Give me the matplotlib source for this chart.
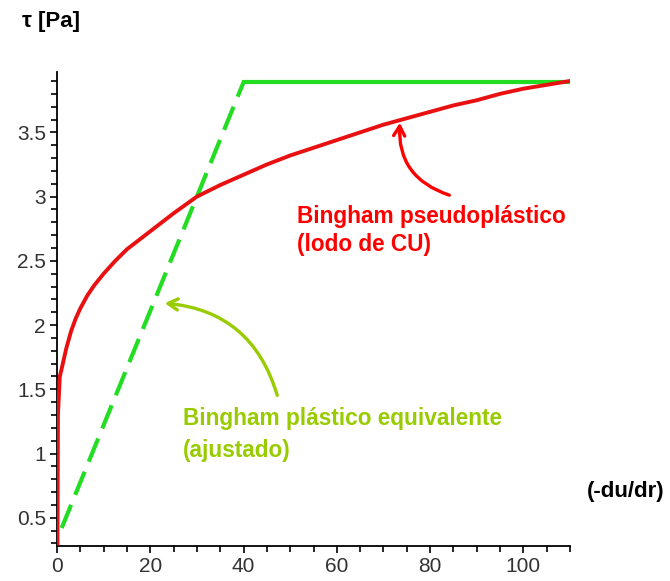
import matplotlib
matplotlib.use('Agg')
import matplotlib.pyplot as plt
from matplotlib.ticker import MultipleLocator

plt.rcParams['font.family'] = ['Liberation Sans', 'DejaVu Sans']

# curva pseudoplastica
red_x = [0.1, 0.2, 0.4, 0.6, 1, 2, 3, 4, 5, 6.5, 8, 10, 12.5, 15, 17.5, 20, 25, 30,
         35, 40, 45, 50, 55, 60, 65, 70, 75, 80, 85, 90, 95, 100, 105, 110]
red_y = [0.30, 1.30, 1.45, 1.60, 1.66, 1.82, 1.95, 2.05, 2.13, 2.23, 2.31, 2.40, 2.50,
         2.59, 2.66, 2.73, 2.87, 3.00, 3.09, 3.17, 3.25, 3.32, 3.38, 3.44, 3.50, 3.56,
         3.61, 3.66, 3.71, 3.75, 3.80, 3.84, 3.87, 3.90]

# plastico equivalente
green_dash_x = [1, 40]
green_dash_y = [0.42, 3.89]
green_flat_x = [40, 110]
green_flat_y = [3.89, 3.89]

x_major = [0, 20, 40, 60, 80, 100]
y_major = [0.5, 1, 1.5, 2, 2.5, 3, 3.5]
y_labels = ['0.5', '1', '1.5', '2', '2.5', '3', '3.5']

fig = plt.figure(figsize=(6.7, 5.81), dpi=100)
ax = fig.add_axes([57/670, 1 - 546/581, (570 - 57)/670, (546 - 72)/581])

ax.plot(green_dash_x, green_dash_y, color='#22dd22', lw=3.0, linestyle=(0, (6, 2.6)),
        solid_capstyle='butt', zorder=2)
ax.plot(green_flat_x, green_flat_y, color='#22dd22', lw=3.0, zorder=2)
ax.plot(red_x, red_y, color='#e81010', lw=2.8, zorder=3)

ax.set_xlim(0, 110)
ax.set_ylim(0.28, 3.97)

for s in ['top', 'right']:
    ax.spines[s].set_visible(False)
for s in ['left', 'bottom']:
    ax.spines[s].set_linewidth(1.3)

ax.set_xticks(x_major)
ax.set_yticks(y_major)
ax.set_yticklabels(y_labels)
ax.xaxis.set_minor_locator(MultipleLocator(5))
ax.yaxis.set_minor_locator(MultipleLocator(0.1))
ax.tick_params(which='major', direction='out', length=5, width=1.2, labelsize=15,
               labelcolor='#333333', pad=3)
ax.tick_params(which='minor', direction='out', length=4.5, width=1.2)

fig.text(22/670, 1 - 22/581, 'τ [Pa]', fontsize=16, fontweight='bold', va='center')
fig.text(587/670, 1 - 492/581, '(-du/dr)', fontsize=16, fontweight='bold', va='center')

fig.text(297/670, 1 - 216/581, 'Bingham pseudoplástico', fontsize=16.3, fontweight='bold',
         color='#ff0000', va='center')
fig.text(297/670, 1 - 244/581, '(lodo de CU)', fontsize=16.3, fontweight='bold',
         color='#ff0000', va='center')
fig.text(183/670, 1 - 418/581, 'Bingham plástico equivalente', fontsize=16.3,
         fontweight='bold', color='#99cc00', va='center')
fig.text(183/670, 1 - 451/581, '(ajustado)', fontsize=16.3, fontweight='bold',
         color='#99cc00', va='center')

# flechas
ax.annotate('', xy=(400/670, 1 - 120/581), xycoords='figure fraction',
            xytext=(452/670, 1 - 196/581), textcoords='figure fraction',
            arrowprops=dict(arrowstyle='->,head_length=0.7,head_width=0.4',
                            color='#ff0000', lw=2.4,
                            connectionstyle='arc3,rad=-0.4'))
ax.annotate('', xy=(162/670, 1 - 303/581), xycoords='figure fraction',
            xytext=(278/670, 1 - 398/581), textcoords='figure fraction',
            arrowprops=dict(arrowstyle='->,head_length=0.7,head_width=0.4',
                            color='#99cc00', lw=2.4,
                            connectionstyle='arc3,rad=0.35'))

fig.savefig('out.png', dpi=100)
